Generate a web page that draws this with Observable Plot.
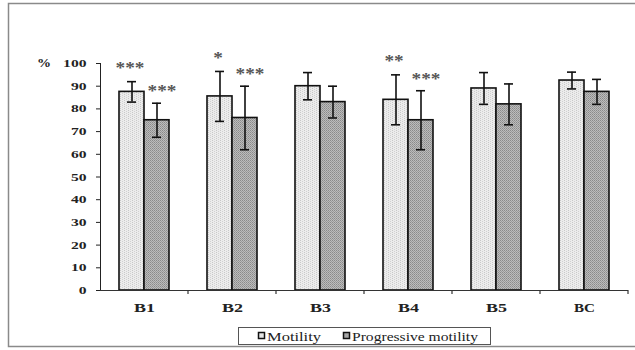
<!DOCTYPE html>
<html><head><meta charset="utf-8">
<script src="https://cdn.jsdelivr.net/npm/d3@7"></script>
<script src="https://cdn.jsdelivr.net/npm/@observablehq/plot@0.6"></script>
<style>body{margin:0;background:#fff}#chart svg{display:block}</style>
</head><body><div id="chart"></div>
<script>
const groups = ["B1", "B2", "B3", "B4", "B5", "BC"];
const seriesNames = ["Motility", "Progressive motility"];
const motilityMean = [87.5, 85.5, 90, 84, 89, 92.5];
const motilitySD = [4.5, 11, 6, 11, 7, 3.7];
const progMean = [75, 76, 83, 75, 82, 87.5];
const progSD = [7.5, 14, 7, 13, 9, 5.5];
const motilitySig = ["***", "*", "", "**", "", ""];
const progSig = ["***", "***", "", "***", "", ""];
const yTicks = [0, 10, 20, 30, 40, 50, 60, 70, 80, 90, 100];
const yUnit = "%";

const rows = [];
groups.forEach((g, i) => {
  rows.push({group: g, series: seriesNames[0], mean: motilityMean[i], sd: motilitySD[i], sig: motilitySig[i]});
  rows.push({group: g, series: seriesNames[1], mean: progMean[i], sd: progSD[i], sig: progSig[i]});
});
const colors = {"Motility": "#e6e6e6", "Progressive motility": "#a6a6a6"};
const patterns = {"Motility": "url(#pat-mot)", "Progressive motility": "url(#pat-prog)"};
const FONT = "'Liberation Serif', 'Times New Roman', serif";

const plot = Plot.plot({
  width: 635, height: 350,
  marginLeft: 100, marginRight: 7, marginTop: 63, marginBottom: 60,
  style: {fontFamily: FONT, fontSize: "11px", fontWeight: "bold", background: "transparent", color: "#222"},
  fx: {domain: groups, padding: 0, label: null, tickSize: 0, tickPadding: 12},
  x: {domain: seriesNames, paddingInner: 0, paddingOuter: 0.76, axis: null},
  y: {domain: [0, 100], ticks: yTicks, tickSize: 4, tickPadding: 10, label: null, line: true},
  marks: [
    Plot.barY(rows, {fx: "group", x: "series", y: "mean", fill: d => colors[d.series], stroke: "#111", strokeWidth: 1.6}),
    Plot.ruleX(rows, {fx: "group", x: "series", y1: d => d.mean - d.sd, y2: d => d.mean + d.sd, stroke: "#111", strokeWidth: 1.6}),
    Plot.tickY(rows, {fx: "group", x: "series", y: d => d.mean - d.sd, stroke: "#111", strokeWidth: 1.6, insetLeft: 8, insetRight: 8}),
    Plot.tickY(rows, {fx: "group", x: "series", y: d => d.mean + d.sd, stroke: "#111", strokeWidth: 1.6, insetLeft: 8, insetRight: 8}),
    Plot.text(rows.filter(d => d.sig && d.series === seriesNames[0]), {fx: "group", x: "series", y: d => d.mean + d.sd, text: "sig", dy: -14, dx: -2, fontSize: 16, fill: "#555", lineAnchor: "middle"}),
    Plot.text(rows.filter(d => d.sig && d.series === seriesNames[1]), {fx: "group", x: "series", y: d => d.mean + d.sd, text: "sig", dy: -12, dx: 5, fontSize: 16, fill: "#555", lineAnchor: "middle"}),
    Plot.ruleY([0], {stroke: "#333", strokeWidth: 1.2})
  ]
});
document.getElementById("chart").appendChild(plot);

const svg = d3.select(plot);
// fill textures like the reference
const defs = svg.insert("defs", ":first-child");
const pm = defs.append("pattern").attr("id", "pat-mot").attr("patternUnits", "userSpaceOnUse").attr("width", 4).attr("height", 2);
pm.append("rect").attr("width", 4).attr("height", 2).attr("fill", "#ececec");
pm.append("rect").attr("x", 0).attr("y", 0).attr("width", 1).attr("height", 1).attr("fill", "#c8c8c8");
pm.append("rect").attr("x", 2).attr("y", 1).attr("width", 1).attr("height", 1).attr("fill", "#d2d2d2");
const pp = defs.append("pattern").attr("id", "pat-prog").attr("patternUnits", "userSpaceOnUse").attr("width", 2).attr("height", 2);
pp.append("rect").attr("width", 2).attr("height", 2).attr("fill", "#bcbcbc");
pp.append("rect").attr("x", 0).attr("y", 0).attr("width", 1).attr("height", 1).attr("fill", "#8a8a8a");
pp.append("rect").attr("x", 1).attr("y", 1).attr("width", 1).attr("height", 1).attr("fill", "#9a9a9a");
svg.selectAll('[aria-label="bar"] rect').each(function() {
  const f = this.getAttribute("fill");
  const name = Object.keys(colors).find(k => d3.color(colors[k]).formatHex() === d3.color(f).formatHex());
  if (name) this.setAttribute("fill", patterns[name]);
});
// the reference lettering is horizontally stretched
svg.selectAll('[aria-label="fx-axis tick label"]').attr("font-size", 13.5)
  .selectAll("text").attr("textLength", 21).attr("lengthAdjust", "spacingAndGlyphs");
svg.selectAll('[aria-label="y-axis tick label"] text')
  .attr("textLength", function() { return this.textContent.length * 7.8; }).attr("lengthAdjust", "spacingAndGlyphs");
svg.selectAll('[aria-label="text"] text')
  .attr("textLength", function() { return this.textContent.length * 9.6; }).attr("lengthAdjust", "spacingAndGlyphs");
const fx = plot.scale("fx");
const y = plot.scale("y");
const y0 = y.apply(0);
// boundary ticks on x axis
groups.forEach(g => {
  const xr = fx.apply(g) + fx.bandwidth;
  svg.append("line").attr("x1", xr).attr("x2", xr).attr("y1", y0).attr("y2", y0 + 4).attr("stroke", "#333").attr("stroke-width", 1.2);
});
// unit label
svg.append("text").attr("x", 37).attr("y", y.apply(100)).attr("dy", "0.32em").attr("text-anchor", "start")
  .attr("font-family", FONT).attr("font-size", 12).attr("font-weight", "bold").attr("fill", "#222")
  .attr("textLength", 14).attr("lengthAdjust", "spacingAndGlyphs").text(yUnit);
// outer frame
svg.insert("rect", "defs + *").attr("x", 8.5).attr("y", 3.5).attr("width", 640).attr("height", 343).attr("fill", "#fff").attr("stroke", "#8a8a8a").attr("stroke-width", 1.5);
// legend
const lg = svg.append("g").attr("font-size", 13).attr("font-weight", "normal").attr("font-family", FONT).attr("text-anchor", "start");
lg.append("rect").attr("x", 238.5).attr("y", 327.5).attr("width", 252).attr("height", 17).attr("fill", "#fff").attr("stroke", "#555");
const items = [{x: 258, w: 54, name: seriesNames[0]}, {x: 343, w: 126, name: seriesNames[1]}];
items.forEach(it => {
  lg.append("rect").attr("x", it.x + 0.5).attr("y", 332.5).attr("width", 6).attr("height", 6).attr("fill", colors[it.name]).attr("stroke", "#111").attr("stroke-width", 1.5);
  lg.append("text").attr("x", it.x + 9).attr("y", 341).attr("fill", "#222").attr("textLength", it.w).attr("lengthAdjust", "spacingAndGlyphs").text(it.name);
});
</script>
</body></html>
